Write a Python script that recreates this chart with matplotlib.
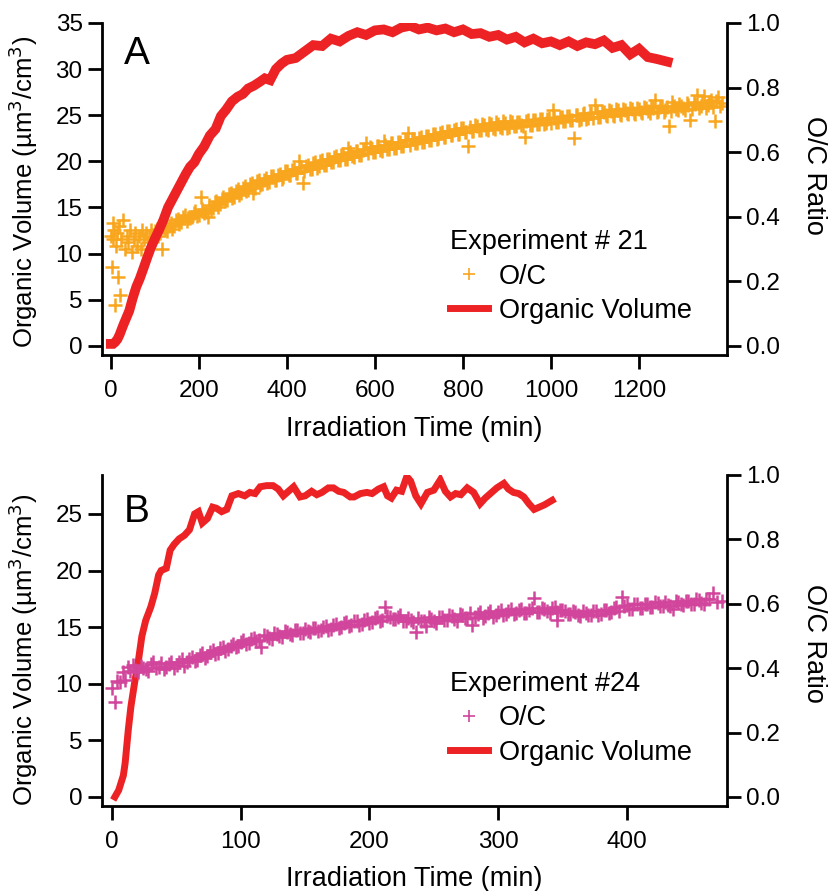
import matplotlib
matplotlib.use("Agg")
import matplotlib.pyplot as plt
from matplotlib.lines import Line2D

plt.rcParams['font.family'] = ['Liberation Sans', 'DejaVu Sans']

RED = '#ED2224'
ORANGE = '#F9A61F'
MAGENTA = '#D1469C'

# ---- Experiment 21 (panel A) ----
vol21_t = [0, 5, 10, 15, 20, 28, 35, 42, 50, 58, 66, 75, 83, 90,
           100, 110, 120, 130, 140, 150, 160, 170, 180, 190, 200,
           212, 225, 238, 250, 262, 275, 288, 300, 312, 325, 338, 350, 362, 375, 388,
           400, 420, 440, 460, 480, 500, 520, 540, 560, 580, 600, 620, 640, 660, 680,
           700, 720, 740, 760, 780, 800, 820, 840, 860, 880, 900, 920, 940, 960, 980,
           1000, 1020, 1040, 1060, 1080, 1100, 1120, 1140, 1160, 1180, 1200, 1220, 1240, 1265]
vol21 = [0.2, 0.2, 0.4, 0.7, 1.2, 2.2, 3.0, 3.8, 5.2, 6.4, 7.3, 8.5, 9.6, 10.5,
         11.6, 12.6, 13.7, 15.0, 15.9, 16.8, 17.7, 18.6, 19.4, 19.9, 20.8,
         21.6, 22.8, 23.5, 24.9, 25.6, 26.5, 27.0, 27.3, 27.9, 28.2, 28.6, 29.0, 28.8, 30.0, 30.6,
         31.0, 31.2, 31.9, 32.6, 32.5, 33.3, 33.0, 33.6, 34.0, 33.7, 34.2, 34.3, 34.0, 34.5, 34.7,
         34.3, 34.5, 34.2, 34.4, 34.0, 34.3, 33.8, 33.9, 33.5, 33.7, 33.2, 33.5, 32.9, 33.3, 32.8,
         33.0, 32.6, 33.0, 32.5, 32.9, 32.7, 33.1, 32.3, 32.6, 31.6, 32.2, 31.3, 31.1, 30.8]

oc21_t = [0, 2, 4, 6, 8, 10, 12, 14, 16, 18, 20, 24, 28, 32, 36, 40, 44, 48, 52, 56,
          60, 64, 68, 72, 76, 80, 84, 88, 92, 96,
          100, 108, 116, 124, 132, 140, 148, 156, 164, 172,
          180, 188, 196, 204, 212, 220, 228, 236, 244, 252,
          260, 268, 276, 284, 292, 300, 308, 316, 324, 332,
          340, 348, 356, 364, 372, 380, 388, 396, 404, 412,
          420, 428, 436, 444, 452, 460, 468, 476, 484, 492,
          500, 508, 516, 524, 532, 540, 548, 556, 564, 572,
          580, 588, 596, 604, 612, 620, 628, 636, 644, 652,
          660, 668, 676, 684, 692, 700, 708, 716, 724, 732,
          740, 748, 756, 764, 772, 780, 788, 796, 804, 812,
          820, 828, 836, 844, 852, 860, 868, 876, 884, 892,
          900, 908, 916, 924, 932, 940, 948, 956, 964, 972,
          980, 988, 996, 1004, 1012, 1020, 1028, 1036, 1044, 1052,
          1060, 1068, 1076, 1084, 1092, 1100, 1108, 1116, 1124, 1132,
          1140, 1148, 1156, 1164, 1172, 1180, 1188, 1196, 1204, 1212,
          1220, 1228, 1236, 1244, 1252, 1260, 1268, 1276, 1284, 1292,
          1300, 1308, 1316, 1324, 1332, 1340, 1348, 1356, 1364, 1372,
          1380, 1388]
oc21 = [0.34, 0.245, 0.38, 0.33, 0.36, 0.127, 0.31, 0.35, 0.214, 0.37,
        0.158, 0.33, 0.39, 0.30, 0.34, 0.32, 0.36, 0.29, 0.33, 0.35,
        0.31, 0.34, 0.30, 0.36, 0.33, 0.35, 0.32, 0.34, 0.36, 0.33,
        0.355, 0.340, 0.300, 0.358, 0.372, 0.362, 0.390, 0.378, 0.400, 0.388,
        0.396, 0.410, 0.402, 0.462, 0.410, 0.400, 0.422, 0.445, 0.430, 0.455,
        0.448, 0.470, 0.458, 0.480, 0.468, 0.490, 0.478, 0.500, 0.473, 0.510,
        0.498, 0.515, 0.505, 0.525, 0.512, 0.530, 0.518, 0.540, 0.528, 0.545,
        0.535, 0.572, 0.504, 0.558, 0.548, 0.566, 0.552, 0.572, 0.560, 0.580,
        0.568, 0.585, 0.574, 0.592, 0.580, 0.612, 0.588, 0.604, 0.592, 0.608,
        0.627, 0.615, 0.600, 0.618, 0.605, 0.633, 0.610, 0.628, 0.612, 0.630,
        0.618, 0.638, 0.658, 0.642, 0.628, 0.645, 0.632, 0.650, 0.638, 0.655,
        0.642, 0.660, 0.646, 0.665, 0.652, 0.670, 0.656, 0.675, 0.662, 0.618,
        0.665, 0.685, 0.670, 0.688, 0.672, 0.690, 0.675, 0.692, 0.678, 0.695,
        0.676, 0.697, 0.680, 0.694, 0.683, 0.648, 0.698, 0.684, 0.700, 0.688,
        0.704, 0.690, 0.706, 0.730, 0.694, 0.710, 0.696, 0.712, 0.700, 0.645,
        0.716, 0.703, 0.720, 0.706, 0.722, 0.746, 0.710, 0.726, 0.714, 0.730,
        0.716, 0.732, 0.718, 0.735, 0.720, 0.736, 0.722, 0.738, 0.724, 0.740,
        0.726, 0.742, 0.762, 0.728, 0.744, 0.730, 0.680, 0.756, 0.734, 0.748,
        0.736, 0.752, 0.700, 0.754, 0.777, 0.742, 0.775, 0.745, 0.760, 0.696,
        0.770, 0.752]

# in-between samples of the same O/C record
oc21_mid_t = [104, 112, 120, 128, 136, 144, 152, 160, 168, 176,
              184, 192, 200, 208, 216, 224, 232, 240, 248, 256,
              264, 272, 280, 288, 296, 304, 312, 320, 328, 336,
              344, 352, 360, 368, 376, 384, 392, 400, 408, 416,
              424, 432, 440, 448, 456, 464, 472, 480, 488, 496,
              504, 512, 520, 528, 536, 544, 552, 560, 568, 576,
              584, 592, 600, 608, 616, 624, 632, 640, 648, 656,
              664, 672, 680, 688, 696, 704, 712, 720, 728, 736,
              744, 752, 760, 768, 776, 784, 792, 800, 808, 816,
              824, 832, 840, 848, 856, 864, 872, 880, 888, 896,
              904, 912, 920, 928, 936, 944, 952, 960, 968, 976,
              984, 992, 1000, 1008, 1016, 1024, 1032, 1040, 1048, 1056,
              1064, 1072, 1080, 1088, 1096, 1104, 1112, 1120, 1128, 1136,
              1144, 1152, 1160, 1168, 1176, 1184, 1192, 1200, 1208, 1216,
              1224, 1232, 1240, 1248, 1256, 1264, 1272, 1280, 1288, 1296,
              1304, 1312, 1320, 1328, 1336, 1344, 1352, 1360, 1368, 1376,
              1384]
oc21_mid = [0.362, 0.350, 0.372, 0.356, 0.380, 0.370, 0.394, 0.384, 0.405, 0.395,
            0.398, 0.418, 0.405, 0.425, 0.415, 0.436, 0.426, 0.450, 0.438, 0.462,
            0.452, 0.474, 0.462, 0.486, 0.474, 0.494, 0.482, 0.503, 0.490, 0.512,
            0.500, 0.520, 0.508, 0.526, 0.515, 0.533, 0.522, 0.540, 0.530, 0.548,
            0.534, 0.554, 0.541, 0.560, 0.549, 0.568, 0.556, 0.574, 0.561, 0.580,
            0.568, 0.588, 0.575, 0.593, 0.580, 0.600, 0.586, 0.604, 0.591, 0.610,
            0.596, 0.614, 0.600, 0.618, 0.604, 0.622, 0.609, 0.627, 0.614, 0.632,
            0.619, 0.636, 0.623, 0.641, 0.627, 0.646, 0.632, 0.651, 0.637, 0.656,
            0.643, 0.661, 0.647, 0.666, 0.652, 0.671, 0.657, 0.675, 0.661, 0.679,
            0.664, 0.682, 0.667, 0.684, 0.670, 0.686, 0.672, 0.688, 0.675, 0.690,
            0.678, 0.692, 0.680, 0.694, 0.682, 0.697, 0.684, 0.699, 0.686, 0.701,
            0.688, 0.703, 0.690, 0.706, 0.692, 0.708, 0.695, 0.711, 0.698, 0.714,
            0.700, 0.717, 0.703, 0.720, 0.706, 0.723, 0.709, 0.725, 0.712, 0.727,
            0.713, 0.729, 0.715, 0.731, 0.717, 0.733, 0.719, 0.734, 0.720, 0.736,
            0.722, 0.738, 0.724, 0.739, 0.725, 0.741, 0.727, 0.743, 0.729, 0.744,
            0.731, 0.747, 0.733, 0.750, 0.736, 0.752, 0.738, 0.755, 0.741, 0.757,
            0.744]

# ---- Experiment 24 (panel B) ----
vol24_t = [2, 5, 8.6, 10, 12.5, 14.5, 17.5, 20, 23, 26,
           30, 33, 36, 38, 42, 45, 48, 52, 56, 60,
           64, 67, 70, 74, 78, 81, 85, 89, 93, 98,
           103, 107, 111, 115, 120, 125, 129, 133, 137, 141,
           146, 150, 155, 159, 163, 168, 172, 176, 180, 185,
           188, 193, 198, 202, 207, 211, 214, 217, 221, 225,
           229, 232, 236, 240, 245, 250, 255, 259, 263, 267,
           271, 276, 281, 286, 290, 294, 299, 304.5, 308, 312,
           316, 320, 324, 328, 332, 336, 339, 342]
vol24 = [0.0, 0.6, 1.9, 3.0, 6.0, 8.0, 10.2, 11.8, 14.2, 15.6,
         16.8, 18.0, 19.6, 20.0, 20.2, 21.8, 22.3, 22.8, 23.1, 23.6,
         25.0, 25.2, 24.2, 24.6, 25.6, 25.5, 25.2, 25.4, 26.6, 26.8,
         26.6, 26.9, 26.8, 27.4, 27.5, 27.5, 27.2, 26.6, 27.0, 27.4,
         26.5, 26.6, 27.0, 26.7, 26.9, 27.3, 27.3, 27.0, 26.9, 26.5,
         26.5, 26.8, 26.9, 26.8, 27.2, 27.4, 26.6, 26.4, 27.1, 27.0,
         28.3, 27.9, 26.6, 25.9, 26.9, 27.1, 28.0, 27.0, 26.5, 26.8,
         26.7, 27.3, 26.9, 25.9, 26.4, 26.8, 27.3, 27.7, 27.2, 26.9,
         26.8, 26.5, 25.9, 25.4, 25.6, 25.8, 26.0, 26.2]

oc24_t = [0, 2, 4, 6, 8, 10, 12, 14, 16, 18,
          20, 24, 28, 32, 36, 40, 44, 48, 52, 56,
          60, 64, 68, 72, 76, 80, 84, 88, 92, 96,
          100, 104, 108, 112, 116, 120, 124, 128, 132, 136,
          140, 144, 148, 152, 156, 160, 164, 168, 172, 176,
          180, 184, 188, 192, 196, 200, 204, 208, 212, 216,
          220, 224, 228, 232, 236, 240, 244, 248, 252, 256,
          260, 264, 268, 272, 276, 280, 284, 288, 292, 296,
          300, 304, 308, 312, 316, 320, 324, 328, 332, 336,
          340, 344, 346, 348, 352, 356, 360, 364, 368, 372,
          376, 380, 384, 388, 392, 396, 400, 404, 408, 412,
          416, 420, 424, 428, 432, 436, 440, 444, 448, 452,
          456, 460, 464, 467, 470, 474]
oc24 = [0.337, 0.295, 0.360, 0.357, 0.389, 0.363, 0.405, 0.390, 0.410, 0.395,
        0.388, 0.400, 0.392, 0.418, 0.405, 0.398, 0.412, 0.402, 0.420, 0.408,
        0.430, 0.422, 0.440, 0.432, 0.450, 0.443, 0.462, 0.452, 0.470, 0.465,
        0.482, 0.474, 0.490, 0.483, 0.466, 0.500, 0.490, 0.505, 0.498, 0.512,
        0.502, 0.520, 0.510, 0.515, 0.525, 0.514, 0.528, 0.520, 0.535, 0.525,
        0.540, 0.530, 0.545, 0.535, 0.550, 0.540, 0.555, 0.548, 0.590, 0.560,
        0.552, 0.565, 0.548, 0.550, 0.513, 0.545, 0.530, 0.552, 0.540, 0.558,
        0.550, 0.562, 0.548, 0.565, 0.555, 0.534, 0.568, 0.556, 0.572, 0.560,
        0.575, 0.565, 0.578, 0.568, 0.580, 0.570, 0.582, 0.617, 0.575, 0.585,
        0.572, 0.590, 0.549, 0.580, 0.578, 0.568, 0.575, 0.562, 0.572, 0.565,
        0.578, 0.568, 0.582, 0.575, 0.590, 0.622, 0.596, 0.585, 0.600, 0.588,
        0.598, 0.590, 0.602, 0.592, 0.596, 0.585, 0.604, 0.595, 0.608, 0.598,
        0.612, 0.600, 0.615, 0.632, 0.605, 0.608]

oc24_mid_t = [22, 26, 30, 34, 38, 42, 46, 50, 54, 58,
              62, 66, 70, 74, 78, 82, 86, 90, 94, 98,
              102, 106, 110, 114, 118, 122, 126, 130, 134, 138,
              142, 146, 150, 154, 158, 162, 166, 170, 174, 178,
              182, 186, 190, 194, 198, 202, 206, 210, 214, 218,
              222, 226, 230, 234, 238, 242, 246, 250, 254, 258,
              262, 266, 270, 274, 278, 282, 286, 290, 294, 298,
              302, 306, 310, 314, 318, 322, 326, 330, 334, 338,
              342, 346, 350, 354, 358, 362, 366, 370, 374, 378,
              382, 386, 390, 394, 398, 402, 406, 410, 414, 418,
              422, 426, 430, 434, 438, 442, 446, 450, 454, 458,
              462]
oc24_mid = [0.408, 0.396, 0.412, 0.399, 0.415, 0.403, 0.418, 0.410, 0.428, 0.418,
            0.436, 0.426, 0.446, 0.437, 0.455, 0.447, 0.466, 0.458, 0.476, 0.468,
            0.486, 0.478, 0.494, 0.486, 0.503, 0.494, 0.510, 0.500, 0.515, 0.505,
            0.518, 0.508, 0.522, 0.512, 0.526, 0.518, 0.532, 0.522, 0.538, 0.528,
            0.542, 0.533, 0.548, 0.538, 0.553, 0.544, 0.560, 0.550, 0.563, 0.553,
            0.558, 0.545, 0.555, 0.542, 0.555, 0.545, 0.558, 0.548, 0.560, 0.550,
            0.566, 0.553, 0.568, 0.556, 0.570, 0.558, 0.574, 0.562, 0.577, 0.565,
            0.580, 0.568, 0.583, 0.570, 0.585, 0.572, 0.587, 0.575, 0.588, 0.576,
            0.586, 0.574, 0.582, 0.568, 0.578, 0.565, 0.576, 0.564, 0.578, 0.566,
            0.580, 0.570, 0.586, 0.578, 0.594, 0.584, 0.598, 0.588, 0.600, 0.590,
            0.604, 0.592, 0.606, 0.594, 0.608, 0.598, 0.610, 0.600, 0.614, 0.603,
            0.616]

TICK_FS = 17.5
LABEL_FS = 19.5
MARK = dict(ls='none', marker='+', ms=10, mew=1.8)


def style(ax, ax2, xlim, ylim, xticks, yticks):
    ax.set_xlim(*xlim)
    ax.set_ylim(*ylim)
    # right axis: 1.0 sits at the top of the left axis, 0.0 at its zero
    ax2.set_ylim(ylim[0] / ylim[1], 1.0)
    ax.set_xticks(xticks)
    ax.set_yticks(yticks)
    ax2.set_yticks([0.0, 0.2, 0.4, 0.6, 0.8, 1.0])
    ax2.set_yticklabels(['0.0', '0.2', '0.4', '0.6', '0.8', '1.0'])
    for a in (ax, ax2):
        a.spines['top'].set_visible(False)
        for s in a.spines.values():
            s.set_linewidth(2)
    ax.spines['right'].set_visible(False)
    ax2.spines['left'].set_visible(False)
    ax2.spines['bottom'].set_visible(False)
    ax.tick_params(axis='both', direction='out', length=10, width=2,
                   labelsize=TICK_FS, pad=4)
    ax.tick_params(axis='x', pad=8)
    ax2.tick_params(axis='y', direction='out', length=10, width=2,
                    labelsize=TICK_FS, pad=4)
    ax.set_xlabel('Irradiation Time (min)', fontsize=LABEL_FS)
    ax.set_ylabel('Organic Volume (µm$^3$/cm$^3$)', fontsize=18.5)
    ax2.set_ylabel('O/C Ratio', fontsize=LABEL_FS, rotation=270, va='bottom')


fig = plt.figure(figsize=(8.3, 8.91), dpi=100)

# panel A
axA = fig.add_axes([0.1229, 0.6016, 0.7530, 0.3726])
axA2 = axA.twinx()
axA2.plot(oc21_t, oc21, color=ORANGE, **MARK)
axA2.plot(oc21_mid_t, oc21_mid, color=ORANGE, **MARK)
axA.plot(vol21_t, vol21, color=RED, lw=7, solid_joinstyle='miter')
axA.set_zorder(axA2.get_zorder() + 1)
axA.patch.set_visible(False)
style(axA, axA2, (-20, 1400), (-1, 35), range(0, 1201, 200), range(0, 36, 5))
axA.xaxis.set_label_coords(0.5, -0.185)
axA.yaxis.set_label_coords(-0.10, 0.49)
axA2.yaxis.set_label_coords(1.118, 0.54)
axA.text(0.035, 0.875, 'A', transform=axA.transAxes, fontsize=28, va='baseline')

# panel B
axB = fig.add_axes([0.1229, 0.0954, 0.7530, 0.3715])
axB2 = axB.twinx()
axB.plot(vol24_t, vol24, color=RED, lw=5, solid_joinstyle='miter')
axB2.plot(oc24_t, oc24, color=MAGENTA, **MARK)
axB2.plot(oc24_mid_t, oc24_mid, color=MAGENTA, **MARK)
style(axB, axB2, (-8, 478), (-0.8, 28.44), range(0, 401, 100), range(0, 26, 5))
axB.xaxis.set_label_coords(0.5, -0.18)
axB.yaxis.set_label_coords(-0.10, 0.47)
axB2.yaxis.set_label_coords(1.118, 0.49)
axB.text(0.035, 0.859, 'B', transform=axB.transAxes, fontsize=28, va='baseline')

for ax, col, title, ytop in ((axA, ORANGE, 'Experiment # 21', 0.378),
                             (axB, MAGENTA, 'Experiment #24', 0.407)):
    handles = [Line2D([], [], ls='none', marker='+', ms=8, mew=1.2, color=col),
               Line2D([], [], color=RED, lw=5)]
    ax.legend(handles, ['O/C', 'Organic Volume'], title=title,
              loc='upper left', bbox_to_anchor=(0.557, ytop),
              frameon=False, fontsize=LABEL_FS, title_fontsize=LABEL_FS,
              borderpad=0, borderaxespad=0, handlelength=1.4,
              handletextpad=0.4, labelspacing=0.3, alignment='left')

fig.savefig('out.png', dpi=100)
